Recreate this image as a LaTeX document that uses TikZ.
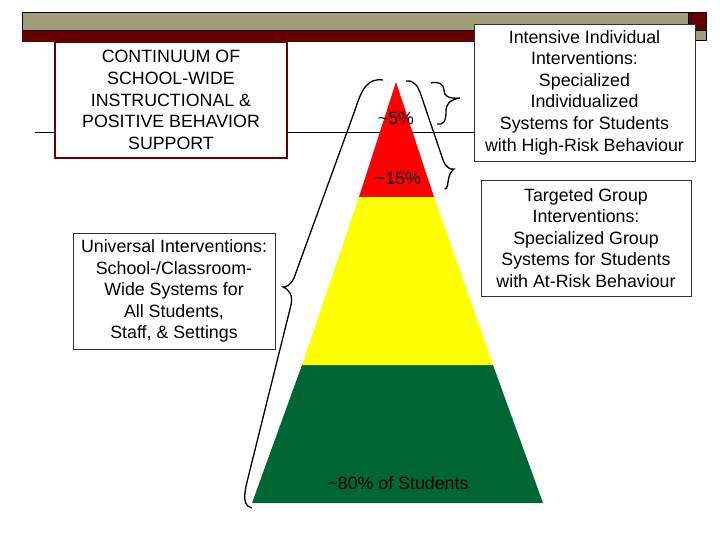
\documentclass[tikz,border=0pt]{standalone}
\usepackage{fontspec}
\setmainfont{Liberation Sans}
\begin{document}
\begin{tikzpicture}[x=1pt,y=-1pt,
  lbl/.style={font=\fontsize{17.8}{21.6}\selectfont,align=center,inner sep=0pt},
  box/.style={draw=black!80,line width=0.8pt,fill=white},
  br/.style={draw=black,line width=1.3pt}]
\useasboundingbox (0,0) rectangle (720,540);
\definecolor{olive}{HTML}{A09D78}
\definecolor{dred}{HTML}{660000}
\definecolor{pgreen}{HTML}{006633}
\definecolor{pyel}{HTML}{FFFF00}
\definecolor{pred}{HTML}{FF0000}
% top bar
\fill[dred] (22,30) rectangle (688,42);
\filldraw[fill=olive,draw=black] (22,12) rectangle (688,30);
\filldraw[fill=dred,draw=black] (688,12) rectangle (706,30);
\filldraw[fill=olive,draw=black] (688,30) rectangle (706,40);
\draw[line width=0.8pt] (35,132) -- (480,132);
% pyramid
\fill[pgreen] (252,503) -- (543,503) -- (493,365) -- (302,365) -- cycle;
\fill[pyel] (302,365) -- (493,365) -- (434,197) -- (359,197) -- cycle;
\fill[pred] (359,197) -- (434,197) -- (396,82) -- cycle;
\node[lbl] (p5) at (396,118) {\char`\~5\%};
\node[lbl] (p15) at (398,178) {\char`\~15\%};
\node[lbl] (p80) at (398,483) {\char`\~80\% of Students};
% braces
\draw[br] (383,80) .. controls (368,78) and (362,88) .. (355,110) -- (294,278) .. controls (290,286) and (286,287) .. (283,287)
  .. controls (290,290) and (293,296) .. (291,305) -- (247,482) .. controls (243,498) and (244,506) .. (252,508);
\draw[br] (406,81) .. controls (414,80) and (418,86) .. (421,95) -- (443,160) .. controls (446,168) and (451,170) .. (454,169)
  .. controls (450,172) and (449,176) .. (448,182) .. controls (448,188) and (445,190) .. (445,188);
\draw[br] (431,83) .. controls (438,81) and (444,84) .. (444,90) .. controls (444,96) and (448,99) .. (460,98)
  .. controls (449,100) and (446,104) .. (446,112) .. controls (446,122) and (443,125) .. (437,124);
% boxes
\node[box,draw=dred,line width=2pt,minimum width=232pt,minimum height=116pt,lbl] (cont) at (171,100) {CONTINUUM OF\\SCHOOL-WIDE\\INSTRUCTIONAL \&\\POSITIVE BEHAVIOR\\SUPPORT};
\node[box,minimum width=202pt,minimum height=116pt,lbl] (univ) at (174,291) {Universal Interventions:\\School-/Classroom-\\Wide Systems for\\All Students,\\Staff, \& Settings};
\node[box,minimum width=221pt,minimum height=137pt,lbl] (int) at (584.5,92.5) {Intensive Individual\\Interventions:\\Specialized\\Individualized\\Systems for Students\\with High-Risk Behaviour};
\node[box,minimum width=210pt,minimum height=116pt,lbl] (tgt) at (586,238) {Targeted Group\\Interventions:\\Specialized Group\\Systems for Students\\with At-Risk Behaviour};
\end{tikzpicture}
\end{document}
